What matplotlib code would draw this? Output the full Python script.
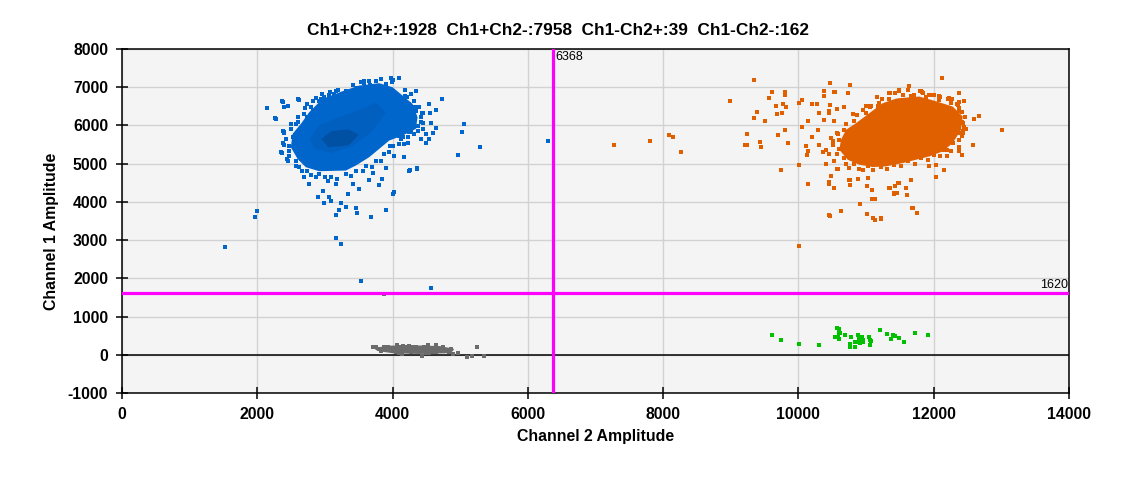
import matplotlib
matplotlib.use("Agg")
import matplotlib.pyplot as plt
from matplotlib.patches import Polygon

plt.rcParams['font.family'] = ['Liberation Sans', 'DejaVu Sans']
plt.rcParams['axes.unicode_minus'] = False

title = "Ch1+Ch2+:1928  Ch1+Ch2-:7958  Ch1-Ch2+:39  Ch1-Ch2-:162"
x_label = "Channel 2 Amplitude"
y_label = "Channel 1 Amplitude"
x_threshold = 6368
y_threshold = 1620
x_ticks = [0, 2000, 4000, 6000, 8000, 10000, 12000, 14000]
y_ticks = [-1000, 0, 1000, 2000, 3000, 4000, 5000, 6000, 7000, 8000]

# dense part of the Ch1+Ch2- cluster (outline)
blue_body_x = [2645, 2768, 2965, 3261, 3507, 3803, 4000, 4148, 4296, 4370, 4345,
               4148, 3951, 3803, 3655, 3458, 3310, 2916, 2719, 2596, 2497, 2522]
blue_body_y = [6041, 6346, 6695, 6895, 7044, 7105, 7000, 6782, 6564, 6215, 5910,
               5736, 5605, 5387, 5169, 4951, 4820, 4803, 4907, 5125, 5430, 5779]
blue_mid_x = [2780, 2900, 3150, 3500, 3750, 3900, 3700, 3400, 3100, 2850]
blue_mid_y = [5650, 5980, 6180, 6400, 6600, 6350, 5850, 5450, 5280, 5380]
blue_core_x = [2950, 3100, 3350, 3500, 3350, 3050]
blue_core_y = [5650, 5850, 5900, 5750, 5480, 5430]

# single droplets around the Ch1+Ch2- cluster
blue_x = [2374, 2398, 2448, 2610, 2275, 2398, 2374, 2364, 2448, 2571, 2669, 2694, 2768,
          2965, 2891, 3064, 3088, 2990, 3236, 3310, 3212, 3162, 3458, 3468, 3680, 3901,
          4010, 3704, 3645, 3837, 3803, 3901, 4168, 4246, 4355, 4015, 3961, 4172, 4222,
          4419, 4493, 4542, 4601, 4641, 4567, 4419, 4444, 4552, 4542, 4650, 4724, 4345,
          4271, 4187, 4089, 4010, 3828, 3655, 3532, 3162, 2990, 2940, 2817, 2743, 2571,
          2522, 2472, 2645, 3409, 3507, 3335, 3162, 3039, 2867, 4246, 4320, 4370, 4148,
          4099, 4493, 4444, 4296, 4345, 4394, 4246, 4207, 5053, 5023, 5290, 4964, 6298,
          4253, 4356, 4016, 1523, 2000, 1970, 3164, 3238, 3538, 4573, 2148, 2370, 2608,
          2262, 2385, 2356, 2444, 3580, 3976,
          2960, 3054, 3070, 3130, 3200, 3310, 3420, 3468, 3580, 3660, 3760, 3901, 3990,
          4180, 4197, 4320, 4335, 4440, 4419, 4450, 4370, 4380, 4271, 4230, 4123, 4090,
          4000, 3950, 3877, 3830, 3754, 3700, 3606, 3570, 3458, 3390, 3310, 3180, 3088,
          3000, 2916, 2790, 2743, 2620, 2571, 2470, 2472, 2390, 2423, 2400, 2497, 2500,
          2596, 2600, 2694, 2700, 2793, 2820, 2916, 2870, 2740]
blue_y = [6625, 6477, 6520, 6669, 6172, 5823, 5535, 5282, 5082, 4951, 4820, 4646, 4471,
          4279, 4122, 4122, 4035, 3974, 3966, 3861, 3791, 3669, 3843, 3713, 3617, 3791,
          4210, 4759, 4585, 4602, 4445, 4890, 5169, 4820, 4864, 5212, 5474, 5518, 5535,
          5648, 5535, 5648, 5797, 5936, 6067, 6084, 6320, 6329, 6564, 6407, 6695, 6895,
          6826, 6930, 7244, 7192, 7218, 7174, 7131, 6913, 6756, 6695, 6390, 6215, 6041,
          5692, 5474, 5125, 4471, 4340, 4210, 4471, 4558, 4646, 5823, 5779, 5866, 5692,
          5736, 5779, 5910, 6215, 6390, 6477, 6564, 6738, 6039, 5831, 5441, 5225, 5597,
          4844, 4896, 4246, 2826, 3770, 3597, 3061, 2904, 1928, 1745, 6454, 6650, 6690,
          6195, 5866, 5311, 5112, 7173, 7234,
          6820, 6808, 6880, 6830, 6940, 6895, 7050, 6983, 7100, 7060, 7150, 7087, 7130,
          6760, 6564, 6650, 6477, 6330, 6215, 6060, 5997, 5860, 5823, 5700, 5648, 5520,
          5474, 5300, 5256, 5080, 5082, 4900, 4951, 4800, 4820, 4680, 4733, 4600, 4646,
          4640, 4733, 4700, 4820, 4900, 5082, 5190, 5343, 5500, 5648, 5800, 5910, 6040,
          6084, 6230, 6302, 6450, 6477, 6640, 6651, 6720, 6560]

# dense part of the Ch1+Ch2+ cluster
orange_body_x = [11492, 11788, 12000, 12281, 12429, 12404, 12281, 12133, 11936, 11739,
                 11542, 11295, 11098, 10901, 10729, 10605, 10630, 10704, 10852, 11049,
                 11246, 11443]
orange_body_y = [6713, 6756, 6650, 6495, 6234, 5886, 5538, 5321, 5190, 5103,
                 5016, 4929, 4912, 4973, 5103, 5364, 5625, 5886, 6060, 6321,
                 6582, 6700]

orange_x = [8988, 9348, 9615, 9570, 9807, 9807, 9674, 9778, 9822, 9689, 9763, 9393,
            9348, 9511, 9244, 9215, 9244, 9427, 9452, 9704, 9807, 9852, 9748, 10015,
            10148, 10464, 10770, 12118, 12370, 12444, 12667, 12593, 13007, 12578, 12415,
            12148, 12030, 10459, 10533, 10918, 11007, 11126, 11215, 11684, 11748, 10459,
            10627, 11081, 11126, 11407, 11452, 11600, 11659, 11467, 11348, 11422, 10148,
            10306, 10207, 10049, 10010, 10059, 10207, 10281, 10385, 10533, 10726, 10306,
            10454, 10143, 10296, 10118, 10133, 10405, 10578, 10741, 10756, 10874, 11007,
            11595, 11926, 12193, 12380, 12415, 12430, 12444, 12385, 12415, 12370, 12267,
            12212, 12089, 11956, 11827, 11630, 11481, 11348, 11156, 11037, 10948, 10729,
            10541, 10384, 10467, 10448, 10566, 10670, 10803, 10384, 10532, 10581, 10483,
            10507, 10409, 10359, 10448, 10532, 10409, 10581, 10483, 10753, 10763, 10532,
            10458, 10887, 10961, 11034, 11020, 11094, 11108, 11133, 11345, 11419, 11453,
            11601, 11492, 11660, 11936, 12034, 12148, 12197, 12419, 12380, 12576, 12439,
            12414, 12591, 12665, 12370, 12380, 12444, 12340, 12084, 11818, 11837, 11936,
            11483, 11345, 11157, 11187, 11000, 11059, 11320, 11665, 11098, 11217, 10630,
            10468, 11014, 11690, 11749, 7280, 7810, 8090, 8140, 8270, 10010,
            11430, 11542, 11620, 11714, 11800, 11887, 12010, 12084, 12220, 12256, 12360,
            12370, 12470, 12429, 12480, 12370, 12380, 12281, 12260, 12158, 12100, 12010,
            11920, 11813, 11720, 11616, 11520, 11418, 11310, 11221, 11110, 11024, 10900,
            10827, 10700, 10679, 10570, 10596, 10510, 10596, 10570, 10679, 10710, 10827,
            10870, 11000, 11080, 11172, 11230, 11345]
orange_y = [6627, 7182, 6870, 6714, 6887, 6792, 6505, 6557, 6479, 6306, 6323, 6349,
            6193, 6115, 5776, 5490, 5490, 5568, 5438, 5750, 5880, 5542, 4839, 4969,
            4474, 7104, 7052, 7234, 6844, 6635, 6245, 6167, 5880, 5490, 5229,
            4839, 4657, 4509, 4370, 3953, 3693, 3528, 3563, 3849, 3719, 3649,
            3771, 4084, 4084, 4222, 4222, 4188, 4578, 4500, 4370, 4422, 5325,
            5481, 5698, 5958, 6583, 6661, 6557, 6557, 6896, 6870, 6844, 6323,
            6366, 6106, 5880, 5455, 5221, 4995, 4865, 4891, 4578, 4604, 4413,
            4370, 4952, 5351, 5325, 5715, 5862, 5958, 6106, 6358, 6445, 6688,
            6688, 6757, 6809, 6870, 7026, 6922, 6844, 6740, 6497, 6410, 6843,
            6870, 6774, 6530, 6321, 6426, 6495, 6295, 6147, 6104, 5773, 5669,
            5582, 5364, 5295, 5260, 5060, 4990, 4860, 4668, 4581, 4442, 4364,
            4477, 4599, 4842, 4625, 4407, 4303, 4077, 4077, 4364, 4216, 4233,
            4181, 4494, 4564, 4929, 4973, 4842, 5190, 5234, 5434, 5486, 5800,
            6087, 6165, 6252, 6843, 6626, 6635, 6556, 6774, 6896, 6843, 6800,
            6913, 6843, 6739, 6600, 6513, 6495, 6495, 6782, 3581, 3581, 3772,
            3642, 3685, 3842, 3711, 5480, 5590, 5760, 5700, 5310, 2840,
            6850, 6800, 6920, 6800, 6900, 6756, 6800, 6669, 6720, 6600, 6540,
            6365, 6230, 6060, 5920, 5799, 5620, 5538, 5330, 5347, 5210, 5234,
            5100, 5147, 5000, 5060, 4930, 4973, 4850, 4912, 4830, 4929, 4870,
            4999, 5000, 5147, 5240, 5382, 5500, 5625, 5790, 5886, 6040, 6104,
            6280, 6321, 6500, 6513, 6680, 6687]

# Ch1-Ch2- droplets
gray_body_x = [3750, 3900, 4300, 4700, 4900, 4850, 4400, 4000, 3800]
gray_body_y = [150, 220, 230, 210, 140, 60, 40, 60, 110]
gray_x = [3704, 3754, 3803, 3828, 3877, 3926, 3966, 4000, 4059, 4099, 4158, 4197, 4246,
          4138, 4187, 4296, 4345, 4384, 4429, 4468, 4517, 4493, 4566, 4616, 4640, 4690,
          4714, 4788, 4828, 4862, 4887, 4975, 5094, 5172, 5256, 5345, 4271, 4320, 4049,
          4099, 4542, 4591, 4739, 4640, 3878]
gray_y = [210, 210, 140, 96, 210, 210, 132, 140, 263, 202, 237, 202, 228,
          9, 105, 193, 193, 123, -35, 202, 263, 35, 140, 123, 263, 140,
          96, 96, 70, 140, 18, 53, -53, -35, 210, -35, 70, 114, 79,
          53, 53, 70, 210, 70, 1596]

# Ch1-Ch2+ droplets
green_x = [9615, 9748, 10015, 10311, 10538, 10578, 10593, 10607, 10593, 10583, 10696,
           10756, 10770, 10780, 10839, 10844, 10874, 10899, 10914, 10933, 10958, 10929,
           11037, 11062, 11067, 11052, 11200, 11304, 11363, 11393, 11427, 11481, 11555,
           11718, 11911, 10894, 10874, 10610, 10960]
green_y = [526, 377, 289, 263, 474, 710, 684, 579, 421, 474, 526,
           289, 210, 474, 210, 342, 526, 377, 316, 474, 377, 403,
           474, 395, 351, 263, 658, 552, 421, 526, 500, 447, 342,
           579, 526, 421, 324, 560, 330]

blue = "#0066cc"
orange = "#e06000"
gray = "#6b6b6b"
green = "#00c000"
magenta = "#ff00ff"

fig = plt.figure(figsize=(11.25, 4.78), dpi=100)
ax = fig.add_axes([0.1084, 0.1778, 0.8418, 0.7197])
ax.set_facecolor("#f4f4f4")

ax.add_patch(Polygon(list(zip(blue_body_x, blue_body_y)), closed=True,
                     facecolor=blue, edgecolor="none", zorder=2))
ax.add_patch(Polygon(list(zip(blue_mid_x, blue_mid_y)), closed=True,
                     facecolor="#005fbf", edgecolor="none", zorder=2.1))
ax.add_patch(Polygon(list(zip(blue_core_x, blue_core_y)), closed=True,
                     facecolor="#0050a4", edgecolor="none", zorder=2.2))
ax.add_patch(Polygon(list(zip(orange_body_x, orange_body_y)), closed=True,
                     facecolor=orange, edgecolor="none", zorder=2))
ax.add_patch(Polygon(list(zip(gray_body_x, gray_body_y)), closed=True,
                     facecolor=gray, edgecolor=gray, lw=1, zorder=2))

ax.scatter(blue_x, blue_y, s=6, marker="s", c=blue, linewidths=0, zorder=3)
ax.scatter(orange_x, orange_y, s=6, marker="s", c=orange, linewidths=0, zorder=3)
ax.scatter(gray_x, gray_y, s=6, marker="s", c=gray, linewidths=0, zorder=3)
ax.scatter(green_x, green_y, s=6, marker="s", c=green, linewidths=0, zorder=3)

ax.axhline(0, color="black", lw=1.1, zorder=1.5)
ax.axvline(x_threshold, color=magenta, lw=2.3, zorder=4)
ax.axhline(y_threshold, color=magenta, lw=2.3, zorder=4)
ax.text(x_threshold + 40, 7960, str(x_threshold), fontsize=9, ha="left", va="top", zorder=5)
ax.text(13980, y_threshold + 40, str(y_threshold), fontsize=9, ha="right", va="bottom", zorder=5)

ax.set_xlim(0, 14000)
ax.set_ylim(-1000, 8000)
ax.set_xticks(x_ticks)
ax.set_yticks(y_ticks)
ax.grid(True, color="#d2d2d2", lw=1, zorder=0)
ax.set_axisbelow(True)
ax.tick_params(direction="inout", length=8, width=1.1, labelsize=11.3, pad=6)
for lab in ax.get_xticklabels() + ax.get_yticklabels():
    lab.set_fontweight("bold")
for sp in ax.spines.values():
    sp.set_linewidth(1.1)

ax.set_xlabel(x_label, fontsize=11.4, fontweight="bold", labelpad=5)
ax.set_ylabel(y_label, fontsize=11.4, fontweight="bold")
ax.yaxis.set_label_coords(-0.066, 0.47)
fig.text(0.496, 0.936, title, fontsize=12.4, fontweight="bold", ha="center", va="center")

plt.savefig("out.png", dpi=100)
